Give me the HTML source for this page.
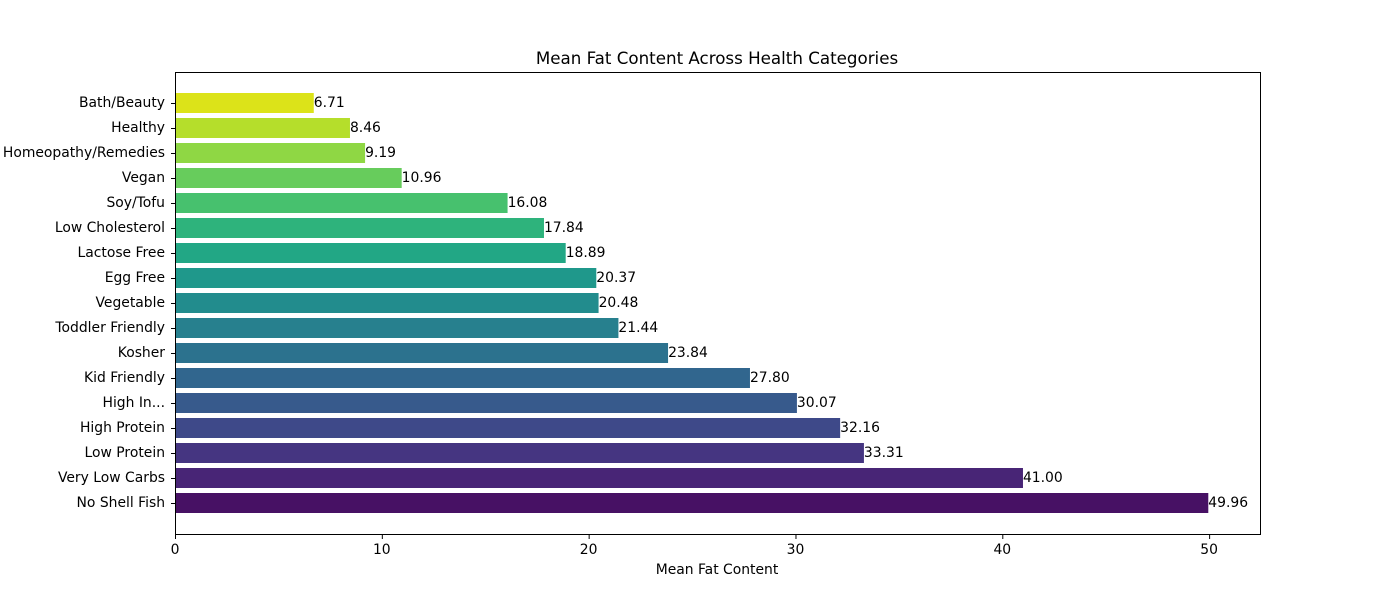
<!DOCTYPE html>
<html><head><meta charset="utf-8"><style>
body{margin:0;background:#fff;}
svg text{font-family:"DejaVu Sans","Liberation Sans",sans-serif;fill:#000;}
</style></head><body>
<svg id="chart" width="1400" height="600" xmlns="http://www.w3.org/2000/svg">
<rect width="1400" height="600" fill="#fff"/>
<text x="717" y="64" font-size="16.7" text-anchor="middle">Mean Fat Content Across Health Categories</text>
<text x="717" y="574" font-size="13.9" text-anchor="middle">Mean Fat Content</text>
<g id="bars"></g>
<g id="xticks"></g>
<rect x="175.5" y="72.5" width="1085" height="462" fill="none" stroke="#000" stroke-width="1"/>
</svg>
<script>
const categories = ["No Shell Fish","Very Low Carbs","Low Protein","High Protein","High In...","Kid Friendly","Kosher","Toddler Friendly","Vegetable","Egg Free","Lactose Free","Low Cholesterol","Soy/Tofu","Vegan","Homeopathy/Remedies","Healthy","Bath/Beauty"];
const values = [49.96,41.00,33.31,32.16,30.07,27.80,23.84,21.44,20.48,20.37,18.89,17.84,16.08,10.96,9.19,8.46,6.71];
const colors = ["#471164","#482576","#453581","#3e4989","#375a8c","#31668e","#2c728e","#27808e","#228c8d","#1f988b","#22a785","#2eb37c","#47c16e","#67cc5c","#8fd744","#b5de2b","#dce319"];
const xTicks = [0,10,20,30,40,50];
const L=175, R=1260, T=72, B=534, xMax=52.46;
const x = v => L + v/xMax*(R-L);
const y = i => 503 - 25*i;
const NS="http://www.w3.org/2000/svg";
const bars=document.getElementById('bars'), xt=document.getElementById('xticks');
categories.forEach((c,i)=>{
  const r=document.createElementNS(NS,'rect');
  r.setAttribute('x',x(0)); r.setAttribute('y',y(i)-10);
  r.setAttribute('width',x(values[i])-x(0)); r.setAttribute('height',20);
  r.setAttribute('fill',colors[i]);
  
  
  bars.appendChild(r);
  const v=document.createElementNS(NS,'text');
  v.setAttribute('x',x(values[i])); v.setAttribute('y',y(i)+4); v.setAttribute('font-size','13.9');
  v.textContent=values[i].toFixed(2);
  
  
  bars.appendChild(v);
  const l=document.createElementNS(NS,'text');
  l.setAttribute('x',165); l.setAttribute('y',y(i)+4); l.setAttribute('font-size','13.9'); l.setAttribute('text-anchor','end');
  l.textContent=c;
  
  
  bars.appendChild(l);
  const tk=document.createElementNS(NS,'line');
  tk.setAttribute('x1',171); tk.setAttribute('x2',175); tk.setAttribute('y1',y(i)+0.5); tk.setAttribute('y2',y(i)+0.5); tk.setAttribute('stroke','#000');
  
  
  bars.appendChild(tk);
});
xTicks.forEach(t=>{
  const tk=document.createElementNS(NS,'line');
  tk.setAttribute('x1',x(t)+0.5); tk.setAttribute('x2',x(t)+0.5); tk.setAttribute('y1',B); tk.setAttribute('y2',B+5); tk.setAttribute('stroke','#000');
  
  
  xt.appendChild(tk);
  const l=document.createElementNS(NS,'text');
  l.setAttribute('x',x(t)); l.setAttribute('y',B+20); l.setAttribute('font-size','13.9'); l.setAttribute('text-anchor','middle');
  l.textContent=t;
  
  
  xt.appendChild(l);
});
</script>
</body></html>
